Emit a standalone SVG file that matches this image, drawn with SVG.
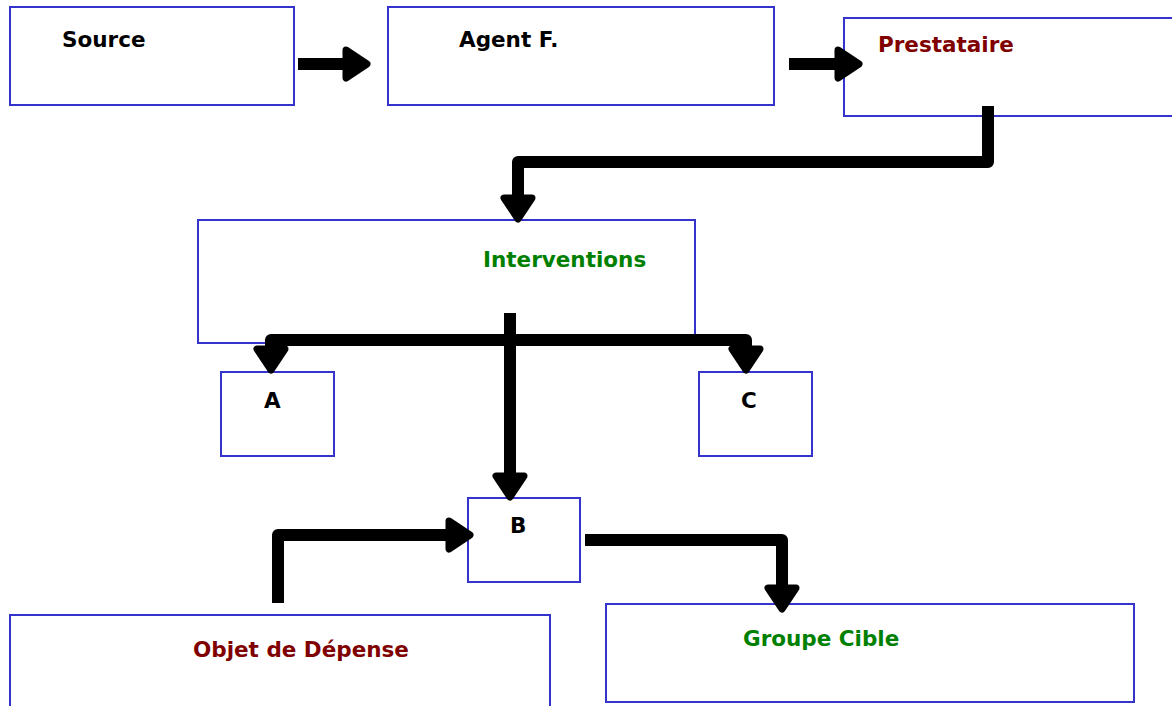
<svg xmlns="http://www.w3.org/2000/svg" width="1172" height="706" viewBox="0 0 1172 706">
<style>
.box{fill:#ffffff;stroke:#3434cc;stroke-width:2}
.lbl{font-family:"DejaVu Sans",Verdana,sans-serif;font-weight:bold;font-size:21.5px;fill:#000}
.red{fill:#800000}
.grn{fill:#008000}
.con{fill:none;stroke:#000;stroke-width:12;stroke-linejoin:round;marker-end:url(#ah)}
</style>
<defs>
<marker id="ah" markerUnits="userSpaceOnUse" viewBox="-4 -22 34 44" markerWidth="34" markerHeight="44" refX="0" refY="0" orient="auto">
<path d="M0,-14 L21,0 L0,14 Z" fill="#000" stroke="#000" stroke-width="7" stroke-linejoin="round"/>
</marker>
</defs>
<rect width="1172" height="706" fill="#fff"/>
<g id="source"><rect class="box" x="10" y="7" width="284" height="98"/><text class="lbl" x="62" y="47">Source</text></g>
<g id="agent"><rect class="box" x="388" y="7" width="386" height="98"/><text class="lbl" x="459" y="47">Agent F.</text></g>
<g id="prestataire"><rect class="box" x="844" y="18" width="340" height="98"/><text class="lbl red" x="878" y="52">Prestataire</text></g>
<g id="interventions"><rect class="box" x="198" y="220" width="497" height="123"/><text class="lbl grn" x="483" y="267">Interventions</text></g>
<g id="a"><rect class="box" x="221" y="372" width="113" height="84"/><text class="lbl" x="264" y="408">A</text></g>
<g id="c"><rect class="box" x="699" y="372" width="113" height="84"/><text class="lbl" x="741" y="408">C</text></g>
<g id="b"><rect class="box" x="468" y="498" width="112" height="84"/><text class="lbl" x="510" y="533">B</text></g>
<g id="objet"><rect class="box" x="10" y="615" width="540" height="100"/><text class="lbl red" x="193" y="657">Objet de Dépense</text></g>
<g id="groupe"><rect class="box" x="606" y="604" width="528" height="98"/><text class="lbl grn" x="743" y="646">Groupe Cible</text></g>
<g id="connectors">
<path class="con" d="M298,64 H346"/>
<path class="con" d="M789,64 H838"/>
<path class="con" d="M988,106 V162 H518 V198"/>
<path class="con" d="M510,340 H271 V349"/>
<path class="con" d="M510,340 H746 V349"/>
<path class="con" d="M510,313 V476"/>
<path class="con" d="M278,603 V535 H449"/>
<path class="con" d="M585,540 H782 V588"/>
</g>
</svg>
